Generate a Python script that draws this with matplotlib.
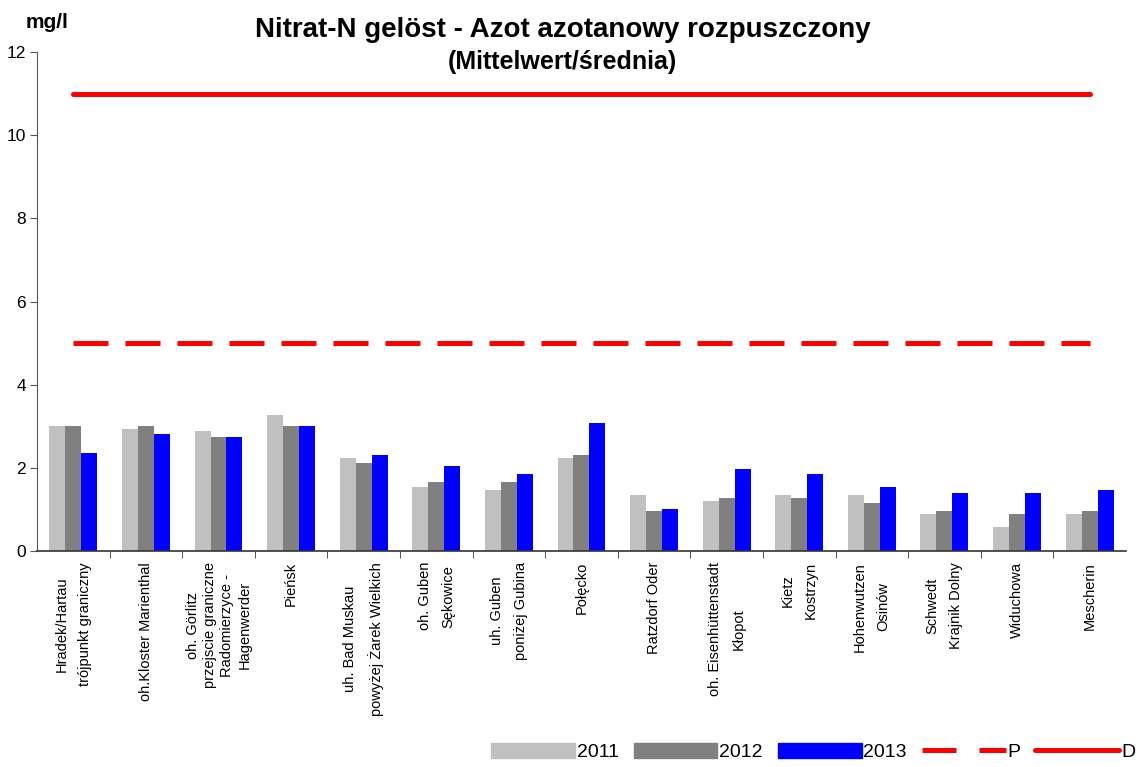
import numpy as np
import matplotlib.pyplot as plt
from matplotlib.lines import Line2D
from matplotlib.patches import Patch

plt.rcParams['font.family'] = ['Liberation Sans', 'DejaVu Sans']

# ====================== data ======================
stations = [
    "Hradek/Hartau\ntrójpunkt graniczny",
    "oh.Kloster Marienthal",
    "oh. Görlitz\nprzejscie graniczne\nRadomierzyce -\nHagenwerder",
    "Pieńsk",
    "uh. Bad Muskau\npowyżej Żarek Wielkich",
    "oh. Guben\nSękowice",
    "uh. Guben\nponiżej Gubina",
    "Połęcko",
    "Ratzdorf Oder",
    "oh. Eisenhüttenstadt\nKłopot",
    "Kietz\nKostrzyn",
    "Hohenwutzen\nOsinów",
    "Schwedt\nKrajnik Dolny",
    "Widuchowa",
    "Mescherin",
]
v2011 = [3.00, 2.93, 2.88, 3.27, 2.24, 1.54, 1.47, 2.24, 1.35, 1.20, 1.35, 1.35, 0.89, 0.58, 0.89]
v2012 = [3.00, 3.00, 2.74, 3.00, 2.12, 1.66, 1.66, 2.31, 0.96, 1.27, 1.27, 1.15, 0.96, 0.89, 0.96]
v2013 = [2.36, 2.81, 2.74, 3.00, 2.31, 2.04, 1.85, 3.08, 1.01, 1.97, 1.85, 1.54, 1.39, 1.39, 1.47]
limit_P = [5] * len(stations)
limit_D = [11] * len(stations)

# ====================== plot ======================
fig = plt.figure(figsize=(11.39, 7.67), dpi=100)
ax = fig.add_axes([0.0325, 0.2816, 0.956, 0.6504])

x = np.arange(len(stations))
w = 0.22
ax.bar(x - w, v2011, w, color="#c0c0c0", label="2011")
ax.bar(x, v2012, w, color="#808080", label="2012")
ax.bar(x + w, v2013, w, color="#0000ff", label="2013")

ax.plot(x, limit_P, color="#ff0000", lw=3.6, dashes=(7, 3.4), solid_capstyle="butt")
ax.plot(x, limit_D, color="#ff0000", lw=3.6, solid_capstyle="round")

ax.set_xlim(-0.5, len(stations) - 0.5)
ax.set_ylim(0, 12)
ax.set_yticks(range(0, 13, 2))
ax.tick_params(axis="y", direction="out", length=5, labelsize=12.5, color="#555555", pad=3)

ax.set_xticks(x)
ax.set_xticklabels(stations, rotation=90, ha="center", va="top",
                   multialignment="center", fontsize=10.5)
for t in ax.get_xticklabels():
    t.set_linespacing(1.3 if t.get_text().count("\n") > 1 else 1.85)
ax.tick_params(axis="x", length=0, pad=8)
ax.set_xticks(np.arange(0.5, len(stations) - 0.5, 1), minor=True)
ax.tick_params(axis="x", which="minor", length=5, color="#333333")

for s in ["top", "right"]:
    ax.spines[s].set_visible(False)
ax.spines["left"].set_color("#555555")
ax.spines["bottom"].set_color("#333333")
ax.spines["bottom"].set_linewidth(1.2)

fig.text(0.494, 0.961, "Nitrat-N gelöst - Azot azotanowy rozpuszczony",
         ha="center", va="center", fontsize=20, fontweight="bold")
fig.text(0.494, 0.919, "(Mittelwert/średnia)",
         ha="center", va="center", fontsize=18, fontweight="bold")
fig.text(0.041, 0.971, "mg/l", ha="center", va="center", fontsize=15, fontweight="bold")

handles = [
    Patch(color="#c0c0c0"), Patch(color="#808080"), Patch(color="#0000ff"),
    Line2D([], [], color="#ff0000", lw=3.6, dashes=(6.8, 4.6)),
    Line2D([], [], color="#ff0000", lw=3.6, solid_capstyle="round"),
]
labels = ["2011", "2012", "2013", "P", "D"]
fig.legend(handles, labels, loc="center", bbox_to_anchor=(0.714, 0.0196), ncol=5,
           frameon=False, fontsize=14, handlelength=4.3, handleheight=0.87,
           handletextpad=0.1, columnspacing=0.77, borderpad=0)

fig.savefig("out.png", dpi=100)
